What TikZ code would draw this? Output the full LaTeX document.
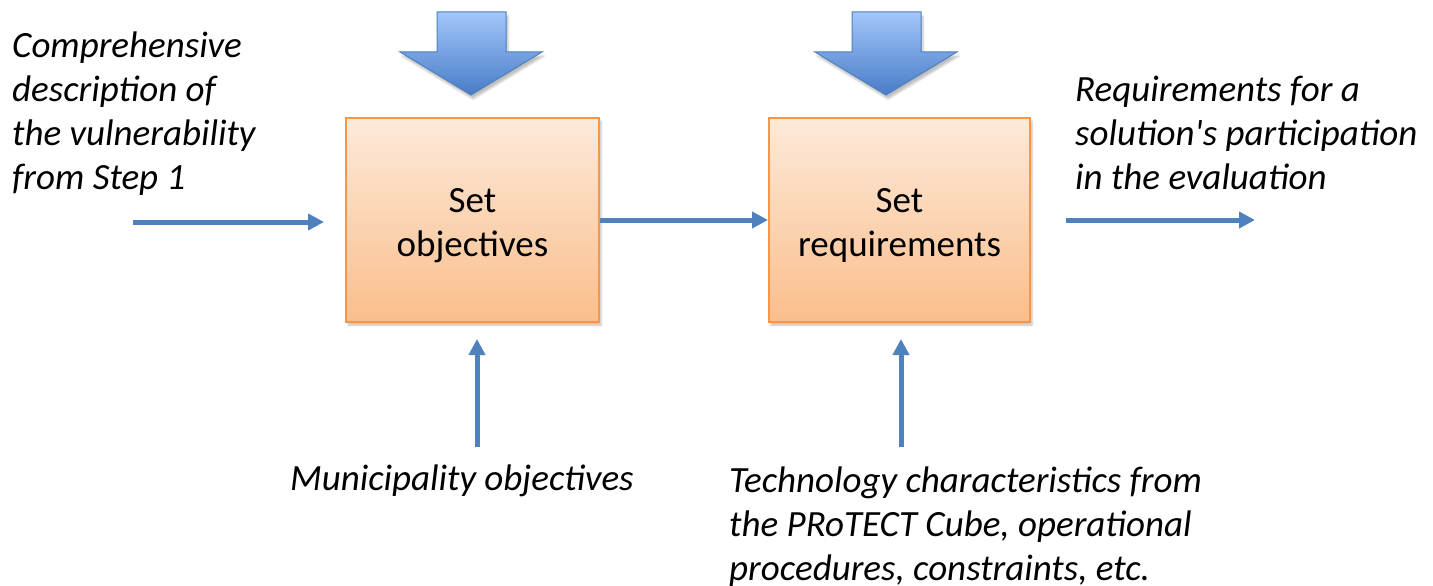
\documentclass[tikz,border=0pt]{standalone}
\usepackage{fontspec}
\setmainfont{Carlito}
\usetikzlibrary{arrows.meta,shadows.blur}
\definecolor{lineblue}{RGB}{79,129,189}
\definecolor{arrtop}{RGB}{163,198,250}
\definecolor{arrbot}{RGB}{72,124,200}
\definecolor{boxtop}{RGB}{253,234,218}
\definecolor{boxbot}{RGB}{250,190,140}
\definecolor{boxedge}{RGB}{247,150,70}
\tikzset{
  procbox/.style={draw=boxedge, line width=2pt, top color=boxtop, bottom color=boxbot,
    minimum height=204pt, align=center, inner sep=0pt,
    font=\fontsize{37}{44}\selectfont,
    blur shadow={shadow xshift=2pt, shadow yshift=-3pt, shadow blur steps=5, shadow opacity=25}},
  flow/.style={draw=lineblue, line width=5pt, -{Triangle[length=16pt,width=16pt]}},
  blockarrow/.style={draw=lineblue, line width=1pt, top color=arrtop, bottom color=arrbot,
    blur shadow={shadow xshift=2pt, shadow yshift=-4pt, shadow blur steps=5, shadow opacity=25}},
  note/.style={align=left, inner sep=0pt, font=\fontsize{37}{44}\selectfont\itshape}
}
\begin{document}
\begin{tikzpicture}[x=1pt,y=-1pt]
\useasboundingbox (0,0) rectangle (1433,586);
% boxes
\node[procbox, minimum width=253pt] (b1) at (472.5,220) {\rule{0pt}{35pt}Set\\objectives};
\node[procbox, minimum width=261pt] (b2) at (899.5,220) {\rule{0pt}{35pt}Set\\requirements};
% block arrows
\path[blockarrow] (437,12) -- (506,12) -- (506,52) -- (542,52) -- (471,95) -- (400,52) -- (437,52) -- cycle;
\path[blockarrow] (852,12) -- (921,12) -- (921,52) -- (957,52) -- (886,95) -- (815,52) -- (852,52) -- cycle;
% texts
\node[note, anchor=base west] (t1) at (12,189) {Comprehensive\\description of\\the vulnerability\\from Step 1};
\node[note, anchor=base west] (t2) at (1075,189) {Requirements for a\\solution\textquotesingle s participation\\in the evaluation};
\node[note, anchor=base west] (t3) at (290,490) {Municipality objectives};
\node[note, anchor=base west] (t4) at (729,580) {Technology characteristics from\\the PRoTECT Cube, operational\\procedures, constraints, etc.};
% connector ends
\coordinate (inL) at (133,222);
\coordinate (outR) at (1255,220);
\coordinate (m1) at (477,447);
\coordinate (m2) at (901,447);
% connectors
\draw[flow, shorten >=21pt] (inL) -- (b1.west |- inL);
\draw[flow] (b1.east) -- (b2.west);
\draw[flow, shorten <=35pt] (b2.east |- outR) -- (outR);
\draw[flow, shorten >=16pt] (m1) -- (b1.south -| m1);
\draw[flow, shorten >=16pt] (m2) -- (b2.south -| m2);
\end{tikzpicture}
\end{document}
